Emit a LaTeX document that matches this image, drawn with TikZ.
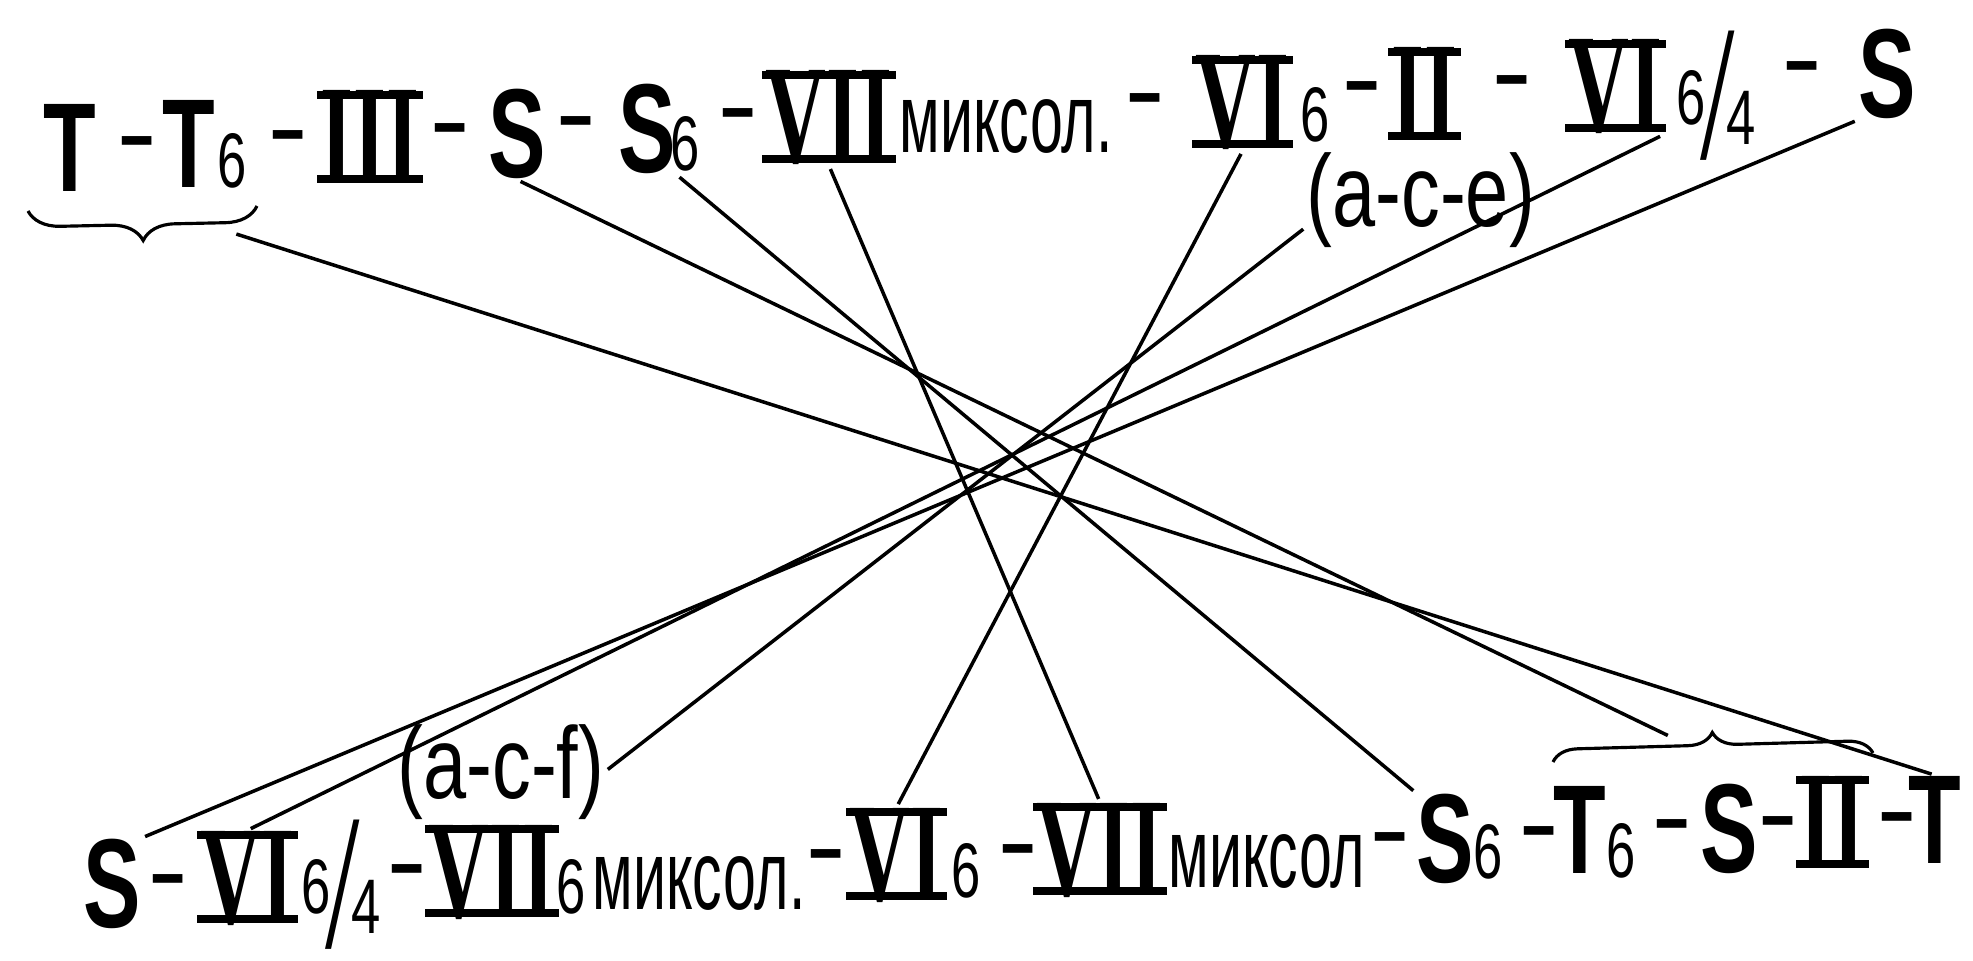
\documentclass[tikz,border=0pt]{standalone}
\usepackage{fontspec}
\usepackage{graphicx}
\usetikzlibrary{decorations.pathreplacing,positioning}
\newfontfamily\condf[FakeStretch=0.68]{Liberation Sans}
\newfontfamily\wordf[FakeStretch=0.6]{Liberation Sans}
\newfontfamily\notef[FakeStretch=0.76]{Liberation Sans}
\newfontfamily\romf[FakeStretch=0.6]{Liberation Serif}
\newfontfamily\slashf{Liberation Serif}
\newsavebox{\rnbox}
\newcommand{\rnum}[1]{\sbox{\rnbox}{#1}%
  \rlap{\kern-1pt\raise\dimexpr\ht\rnbox-2.4pt\relax\hbox{\vrule width \dimexpr\wd\rnbox+2pt\relax height 2.4pt depth 0pt}}%
  \rlap{\kern-1pt\vrule width \dimexpr\wd\rnbox+2pt\relax height 2.4pt depth 0pt}%
  \usebox{\rnbox}}
\newcommand{\sixfour}{\raisebox{2pt}{6}\kern-1.5pt\raisebox{-7.5pt}{\scalebox{1.6}[2.5]{\slashf /}}\kern-2.5pt\raisebox{-3.5pt}{4}}

\begin{document}
\begin{tikzpicture}[x=0.01cm,y=-0.01cm,
  chordlt/.style={inner sep=0pt,anchor=base west,font=\condf\bfseries\fontsize{36}{36}\selectfont},
  romnum/.style={inner sep=0pt,anchor=base west,font=\romf\bfseries\fontsize{40}{40}\selectfont},
  subfig/.style={inner sep=0pt,anchor=base west,font=\condf\fontsize{22}{22}\selectfont},
  wordlbl/.style={inner sep=0pt,anchor=base west,font=\wordf\fontsize{28}{28}\selectfont},
  noteparen/.style={inner sep=0pt,anchor=base west,font=\notef\fontsize{29}{29}\selectfont},
  hyphen/.style={inner sep=0pt,anchor=base,font=\condf\bfseries\fontsize{25}{25}\selectfont},
  link/.style={line width=1pt,shorten <=1pt,shorten >=1pt},
  bracestyle/.style={decorate,line width=0.9pt}]
\useasboundingbox (0,0) rectangle (1973,961);

% upper row
\node[chordlt] (t1) at (43,192) {T};
\node[chordlt] (t2) at (162,188) {T};
\node[subfig] (t2s) at (217,188) {6};
\node[romnum] (t3) at (320,183) {\rnum{III}};
\node[chordlt] (t4) at (488,178) {S};
\node[chordlt] (t5) at (618,173) {S};
\node[subfig] (t5s) at (670,171) {6};
\node[romnum] (t6) at (765,163) {\rnum{VII}};
\node[wordlbl] (t6w) at (899,153) {миксол.};
\node[romnum] (t7) at (1195,148) {\rnum{VI}};
\node[subfig] (t7s) at (1300,142) {6};
\node[romnum] (t8) at (1391,140) {\rnum{II}};
\node[romnum] (t9) at (1568,132) {\rnum{VI}};
\node[subfig] (t9s) at (1676,132) {\sixfour};
\node[chordlt] (t10) at (1858,118) {S};
\node[noteparen] (ace) at (1306,227) {(a-c-e)};
\foreach \x/\y [count=\i] in {137/143,288/137,450/130,576/123,738/115,1145/100,1362/88,1512/82,1802/68}
  \node[hyphen] (dt\i) at (\x,\y+22) {–};

% lower row
\node[chordlt] (b1) at (83,927) {S};
\node[romnum] (b2) at (200,923) {\rnum{VI}};
\node[subfig] (b2s) at (301,921) {\sixfour};
\node[romnum] (b3) at (428,917) {\rnum{VII}};
\node[subfig] (b3s) at (556,913) {6};
\node[wordlbl] (b3w) at (592,909) {миксол.};
\node[romnum] (b4) at (849,900) {\rnum{VI}};
\node[subfig] (b4s) at (951,897) {6};
\node[romnum] (b5) at (1036,895) {\rnum{VII}};
\node[wordlbl] (b5w) at (1168,887) {миксол};
\node[chordlt] (b6) at (1416,882) {S};
\node[subfig] (b6s) at (1473,878) {6};
\node[chordlt] (b7) at (1553,873) {T};
\node[subfig] (b7s) at (1606,877) {6};
\node[chordlt] (b8) at (1700,872) {S};
\node[romnum] (b9) at (1799,868) {\rnum{II}};
\node[chordlt] (b10) at (1908,863) {T};
\node[noteparen] (acf) at (397,798) {(a-c-f)};
\foreach \x/\y [count=\i] in {168/880,407/870,826/855,1018/850,1390/838,1539/832,1672/825,1778/822,1897/818}
  \node[hyphen] (db\i) at (\x,\y+22) {–};

% braces
\draw[bracestyle,decoration={brace,mirror,amplitude=0.32cm}] (28,211) -- (257,206);
\draw[bracestyle,decoration={brace,amplitude=0.25cm}] (1553,762) -- (1873,753);
\coordinate (bra) at (233,233);
\coordinate (brb) at (1671,737);

% links
\draw[link] (bra) -- (b10.north);
\draw[link] (t4.south) -- (brb);
\draw[link] (t5.south east) -- (b6.north west);
\draw[link] (t6.south) -- (b5.north);
\draw[link] (t7.south) -- (b4.north);
\draw[link] (ace.base west) -- (acf.east);
\draw[link] (t9.south east) -- (b2.north);
\draw[link] (t10.south west) -- (b1.north east);
\end{tikzpicture}
\end{document}
